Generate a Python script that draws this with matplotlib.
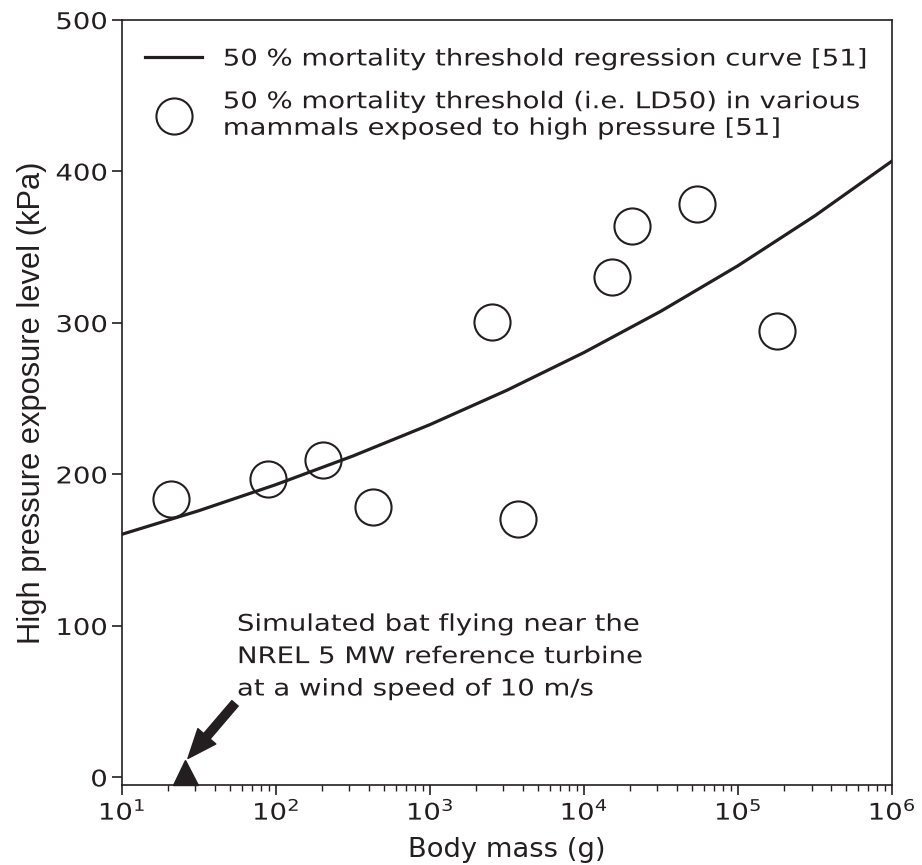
import numpy as np
import matplotlib.pyplot as plt
from matplotlib.patheffects import AbstractPathEffect
from matplotlib.transforms import Affine2D

ink = '#231f20'

# LD50 in various mammals exposed to high pressure
mass_g = [20.7, 89.1, 201, 425, 2518, 3707, 15140, 20600, 53800, 180300]
pressure_kpa = [184.1, 197.0, 209.4, 178.5, 300.7, 170.9, 330.4, 363.9, 378.5, 294.6]

# regression curve, sampled every half decade
curve_mass = [1e1, 10**1.5, 1e2, 10**2.5, 1e3, 10**3.5, 1e4, 10**4.5, 1e5, 10**5.5, 1e6]
curve_kpa = [160.5, 176.1, 193.3, 212.2, 232.9, 255.6, 280.5, 307.8, 337.8, 370.8, 406.9]

# simulated bat
bat_mass = [25.5]
bat_kpa = [3.5]


class Widen(AbstractPathEffect):
    """Draw text glyphs stretched along the reading direction."""
    def __init__(self, sx=1.2, ha='left'):
        super().__init__()
        self.sx = sx
        self.ha = ha

    def draw_path(self, renderer, gc, tpath, affine, rgbFace=None):
        ext = tpath.get_extents()
        c = {'left': 0.0, 'center': 0.5 * (ext.x0 + ext.x1), 'right': ext.x1}[self.ha]
        stretch = Affine2D().translate(-c, 0).scale(self.sx, 1).translate(c, 0)
        renderer.draw_path(gc, tpath, stretch + affine, rgbFace)


plt.rcParams['font.family'] = 'DejaVu Sans'
plt.rcParams['text.color'] = ink
plt.rcParams['axes.labelcolor'] = ink
plt.rcParams['xtick.color'] = ink
plt.rcParams['ytick.color'] = ink
plt.rcParams['axes.edgecolor'] = ink

fs = 16.5

fig = plt.figure(figsize=(9.22, 8.65), dpi=100)
ax = fig.add_axes([0.1323, 0.0925, 0.8352, 0.8844])

ax.plot(curve_mass, curve_kpa, '-', color=ink, lw=2.3,
        label="50 % mortality threshold regression curve [51]")
ax.plot(mass_g, pressure_kpa, 'o', ms=26, mfc='none', mec=ink, mew=1.5,
        label="50 % mortality threshold (i.e. LD50) in various\nmammals exposed to high pressure [51]")
ax.plot(bat_mass, bat_kpa, '^', ms=18, color=ink, clip_on=False)

ax.annotate('', xy=(26.8, 12.5), xytext=(54.2, 48.9),
            arrowprops=dict(facecolor=ink, edgecolor=ink, width=6,
                            headwidth=17, headlength=21, shrink=0))
note = ax.text(55.8, 108.7, "Simulated bat flying near the\nNREL 5 MW reference turbine\nat a wind speed of 10 m/s",
               fontsize=fs, va='top', ha='left', linespacing=1.52)
note.set_path_effects([Widen(1.2, 'left')])

ax.set_xscale('log')
ax.set_xlim(1e1, 1e6)
ax.set_ylim(-5, 500)
ax.set_xticks([1e1, 1e2, 1e3, 1e4, 1e5, 1e6])
ax.set_yticks([0, 100, 200, 300, 400, 500])
ax.tick_params(labelsize=fs, length=7, width=1.2)
ax.tick_params(which='minor', length=4, width=1)
for s in ax.spines.values():
    s.set_linewidth(1.2)

ax.set_xlabel("Body mass (g)", fontsize=19.7)
ax.xaxis.set_label_coords(0.5, -0.068)
ax.set_ylabel("High pressure exposure level (kPa)", fontsize=22.2,
              family='Liberation Sans')
ax.yaxis.set_label_coords(-0.0974, 0.5)

leg = ax.legend(loc='upper left', bbox_to_anchor=(0, 0.994), frameon=False,
                fontsize=fs, handlelength=2.5, handletextpad=0.9,
                labelspacing=0.86, borderaxespad=0.6)
for t in leg.get_texts():
    t.set_path_effects([Widen(1.2, 'left')])

fig.canvas.draw()
for lbl in ax.get_xticklabels():
    lbl.set_path_effects([Widen(1.2, 'center')])
for lbl in ax.get_yticklabels():
    lbl.set_path_effects([Widen(1.2, 'right')])

fig.savefig('out.png', dpi=100)
